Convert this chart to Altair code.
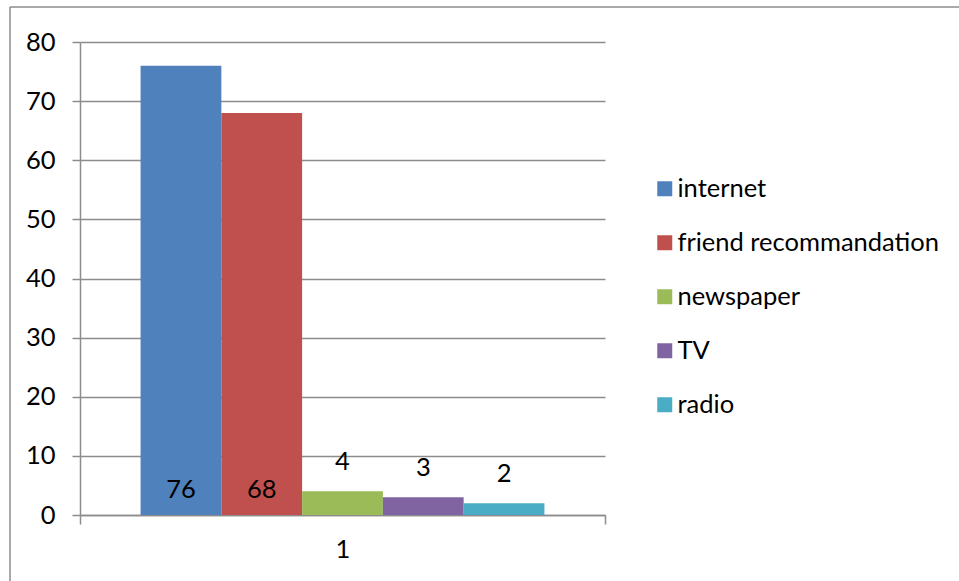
import altair as alt
import pandas as pd

# ---- data ----
group_labels = ["1", "1", "1", "1", "1"]
series = ["internet", "friend recommandation", "newspaper", "TV", "radio"]
values = [76, 68, 4, 3, 2]
colors = ["#4F81BD", "#C0504D", "#9BBB59", "#8064A2", "#4BACC6"]
y_ticks = [0, 10, 20, 30, 40, 50, 60, 70, 80]

df = pd.DataFrame({"group": group_labels, "series": series, "value": values})

FONT = "Lato"
FS = 25.5
LINE = "#8c8c8c"

x_enc = alt.X(
    "group:N",
    title=None,
    scale=alt.Scale(paddingInner=0, paddingOuter=0),
    axis=alt.Axis(
        labelAngle=0, tickBand="extent", tickSize=9, tickColor=LINE, tickWidth=1.5,
        domainColor=LINE, domainWidth=1.5, labelPadding=13, labelFont=FONT,
        labelFontSize=FS, labelColor="black", grid=False,
    ),
)
xo_enc = alt.XOffset(
    "series:N", sort=series, scale=alt.Scale(paddingInner=0, paddingOuter=0.75)
)
y_scale = alt.Scale(domain=[0, 80], nice=False)
y_enc = alt.Y(
    "value:Q",
    title=None,
    scale=y_scale,
    axis=alt.Axis(
        values=y_ticks, tickSize=8, tickColor=LINE, tickWidth=1.5,
        domainColor=LINE, domainWidth=1.5, grid=True, gridColor=LINE,
        gridWidth=1.5, labelPadding=17, labelFont=FONT, labelFontSize=FS,
        labelColor="black",
    ),
)
color_enc = alt.Color(
    "series:N",
    sort=series,
    scale=alt.Scale(domain=series, range=colors),
    legend=alt.Legend(
        title=None, orient="none", legendX=572, legendY=134,
        symbolType="square", symbolSize=225, symbolStrokeWidth=0,
        labelFont=FONT, labelFontSize=FS, labelColor="black",
        rowPadding=27, labelOffset=0, labelLimit=400,
    ),
)

base = alt.Chart(df)

bars = base.mark_bar(strokeWidth=0).encode(
    x=x_enc, xOffset=xo_enc, y=y_enc, color=color_enc
)

big_labels = base.transform_filter("datum.value > 10").mark_text(
    font=FONT, fontSize=FS, color="black", baseline="middle", align="center", dy=-25
).encode(x=x_enc, xOffset=xo_enc, y=alt.datum(0, scale=y_scale), text="value:Q")

small_labels = base.transform_filter("datum.value <= 10").mark_text(
    font=FONT, fontSize=FS, color="black", baseline="middle", align="center", dy=-29
).encode(x=x_enc, xOffset=xo_enc, y=y_enc, text="value:Q")

border_df = pd.DataFrame({"k": [0]})
border_top = alt.Chart(border_df).mark_rule(color=LINE, strokeWidth=1.5).encode(
    x=alt.value(-70), x2=alt.value(879), y=alt.value(-35)
)
border_left = alt.Chart(border_df).mark_rule(color=LINE, strokeWidth=1.5).encode(
    x=alt.value(-70), y=alt.value(-35), y2=alt.value(539)
)

chart = (
    alt.layer(bars, big_labels, small_labels, border_top, border_left)
    .properties(
        width=525,
        height=473,
        autosize=alt.AutoSizeParams(type="none"),
        padding={"left": 80, "top": 42, "right": 354, "bottom": 66},
        background="white",
    )
    .configure_view(strokeWidth=0)
)

chart.save("out.html", embed_options={"renderer": "svg", "actions": False})
